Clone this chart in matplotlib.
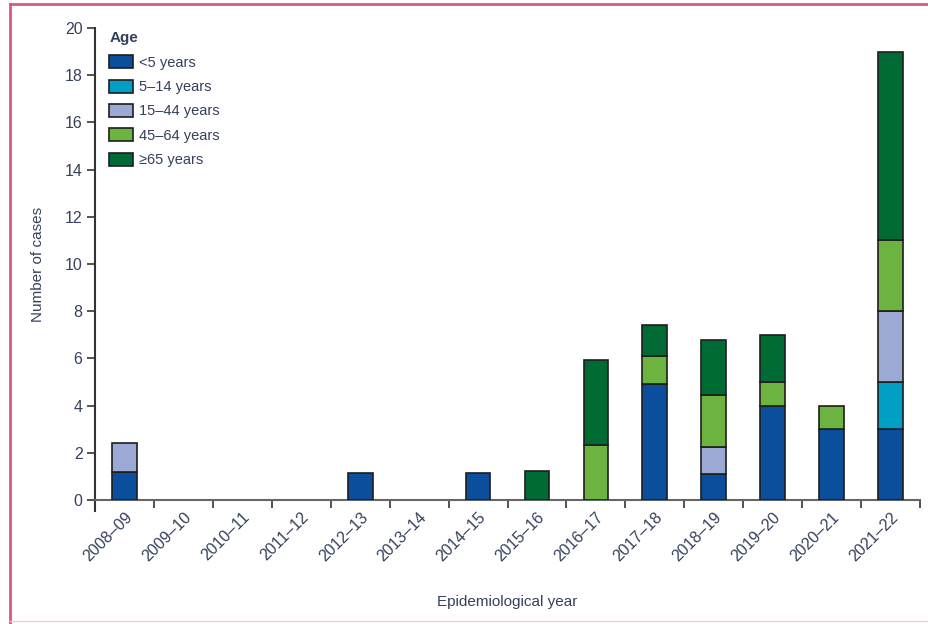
import numpy as np
import matplotlib.pyplot as plt
from matplotlib.lines import Line2D

# ---- data: cases per epidemiological year, by age group ----
years = ["2008–09", "2009–10", "2010–11", "2011–12", "2012–13", "2013–14", "2014–15",
         "2015–16", "2016–17", "2017–18", "2018–19", "2019–20", "2020–21", "2021–22"]

age_groups = ["<5 years", "5–14 years", "15–44 years", "45–64 years", "≥65 years"]

under5    = [1.2, 0, 0, 0, 1.15, 0, 1.15, 0,    0,    4.9, 1.1,  4, 3, 3]
age5_14   = [0,   0, 0, 0, 0,    0, 0,    0,    0,    0,   0,    0, 0, 2]
age15_44  = [1.2, 0, 0, 0, 0,    0, 0,    0,    0,    0,   1.15, 0, 0, 3]
age45_64  = [0,   0, 0, 0, 0,    0, 0,    0,    2.35, 1.2, 2.2,  1, 1, 3]
age65plus = [0,   0, 0, 0, 0,    0, 0,    1.25, 3.6,  1.3, 2.35, 2, 0, 8]

series = [under5, age5_14, age15_44, age45_64, age65plus]
colors = ["#0b4f9c", "#00a0c6", "#9ba9d5", "#6cb33f", "#006b35"]

text_col = "#34405c"
plt.rcParams["font.family"] = ["Liberation Sans Narrow", "Liberation Sans", "DejaVu Sans"]

fig = plt.figure(figsize=(9.29, 6.24), dpi=100)
ax = fig.add_axes([0.1023, 0.1987, 0.888, 0.7564])

x = np.arange(len(years))
bottom = np.zeros(len(years))
for vals, col, lab in zip(series, colors, age_groups):
    vals = np.array(vals, dtype=float)
    mask = vals > 0
    ax.bar(x[mask], vals[mask], bottom=bottom[mask], width=0.42, color=col,
           edgecolor="#1e1e1e", linewidth=1.2, label=lab, zorder=3)
    bottom += vals
# legend patches built separately so every age group is listed
handles = [plt.Rectangle((0, 0), 1, 1, facecolor=c, edgecolor="#1e1e1e", linewidth=1.2)
           for c in colors]

ax.set_xlim(-0.5, 13.5)
ax.set_ylim(0, 20)
ax.set_yticks(np.arange(0, 21, 2))
ax.set_xticks(x)
ax.set_xticklabels(years, rotation=45, ha="right", rotation_mode="anchor",
                   fontsize=11.5, color=text_col)
ax.set_xticks(np.arange(-0.5, 14, 1), minor=True)
ax.tick_params(axis="x", which="major", length=0, pad=7)
ax.tick_params(axis="x", which="minor", length=6, width=1.3, color="#444444", direction="out")
ax.tick_params(axis="y", length=6, width=1.3, color="#444444", labelsize=11.5,
               labelcolor=text_col, pad=3)

for side in ["top", "right"]:
    ax.spines[side].set_visible(False)
ax.spines["left"].set_color("#333333")
ax.spines["left"].set_linewidth(1.5)
ax.spines["left"].set_bounds(-0.45, 20)
ax.spines["bottom"].set_color("#666666")
ax.spines["bottom"].set_linewidth(1.5)

ax.set_ylabel("Number of cases", fontsize=11, color=text_col, labelpad=14)
ax.set_xlabel("Epidemiological year", fontsize=11, color=text_col, labelpad=22)

leg = ax.legend(handles, age_groups, title="Age", loc="upper left",
                bbox_to_anchor=(0.005, 1.015), frameon=False, fontsize=10.5,
                handlelength=1.6, handleheight=1.0, handletextpad=0.45,
                labelspacing=0.68, borderaxespad=0.3, alignment="left")
leg.get_title().set_fontweight("bold")
leg.get_title().set_fontsize(11)
leg.get_title().set_color(text_col)
for t in leg.get_texts():
    t.set_color(text_col)

# page frame lines
fig.add_artist(Line2D([0.011, 0.011], [0, 0.993], transform=fig.transFigure,
                      color="#d7577f", linewidth=2))
fig.add_artist(Line2D([0.011, 1], [0.993, 0.993], transform=fig.transFigure,
                      color="#d7577f", linewidth=2))
fig.add_artist(Line2D([0.011, 1], [0.005, 0.005], transform=fig.transFigure,
                      color="#f3c9d6", linewidth=1))

fig.savefig("out.png", dpi=100)
